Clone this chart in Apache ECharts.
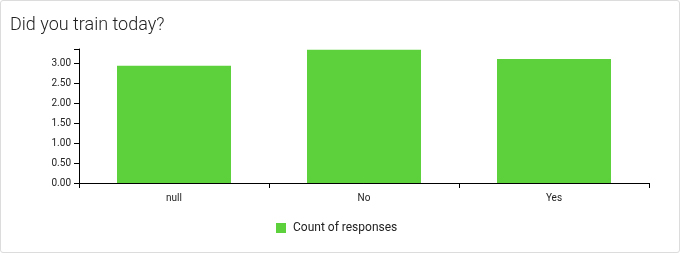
<!DOCTYPE html>
<html><head><meta charset="utf-8">
<script src="https://cdn.jsdelivr.net/npm/echarts@6/dist/echarts.min.js"></script>
<style>
html,body{margin:0;padding:0;background:#fff;}
#wrap{position:absolute;left:0;top:0;width:678px;height:251px;border:1px solid #dcdcdc;border-radius:3px;}
#c{width:680px;height:253px;position:absolute;left:0;top:0;}
</style></head>
<body><div id="wrap"></div><div id="c"></div>
<script>
const categories = ['null', 'No', 'Yes'];
const counts = [2.93, 3.33, 3.10];
const yTickLabels = [0, 0.5, 1, 1.5, 2, 2.5, 3];
const yMax = 3.35;
const seriesName = 'Count of responses';

const chart = echarts.init(document.getElementById('c'), null, {renderer: 'canvas'});
chart.setOption({
  animation: false,
  title: {text: 'Did you train today?', left: 5, top: 11,
    textStyle: {fontFamily: 'Roboto', fontWeight: 300, fontSize: 18, color: '#222'}},
  grid: {left: 79, right: 31, top: 49, bottom: 70},
  legend: {top: 217, left: 271, itemWidth: 10, itemHeight: 10, icon: 'rect', itemGap: 10,
    textStyle: {fontFamily: 'Roboto', fontSize: 12, color: '#222', padding: [0, 0, 0, 2]}, data: [seriesName]},
  xAxis: {type: 'category', data: categories,
    axisLine: {lineStyle: {color: '#000', width: 1}},
    axisTick: {show: true, length: 5, alignWithLabel: false, lineStyle: {color: '#000'}},
    axisLabel: {fontFamily: 'Roboto', fontSize: 10, color: '#222', margin: 10}},
  yAxis: {type: 'value', min: 0, max: yMax,
    splitLine: {show: false},
    axisLine: {show: true, lineStyle: {color: '#000', width: 1}},
    axisTick: {show: true, length: 5, lineStyle: {color: '#000'}, customValues: yTickLabels.concat([yMax])},
    axisLabel: {fontFamily: 'Roboto', fontSize: 10, color: '#222', margin: 8,
      customValues: yTickLabels, formatter: v => v.toFixed(2)}},
  series: [{name: seriesName, type: 'bar', data: counts, barWidth: '60%',
    itemStyle: {color: '#5cd13c'}}]
});
</script></body></html>
